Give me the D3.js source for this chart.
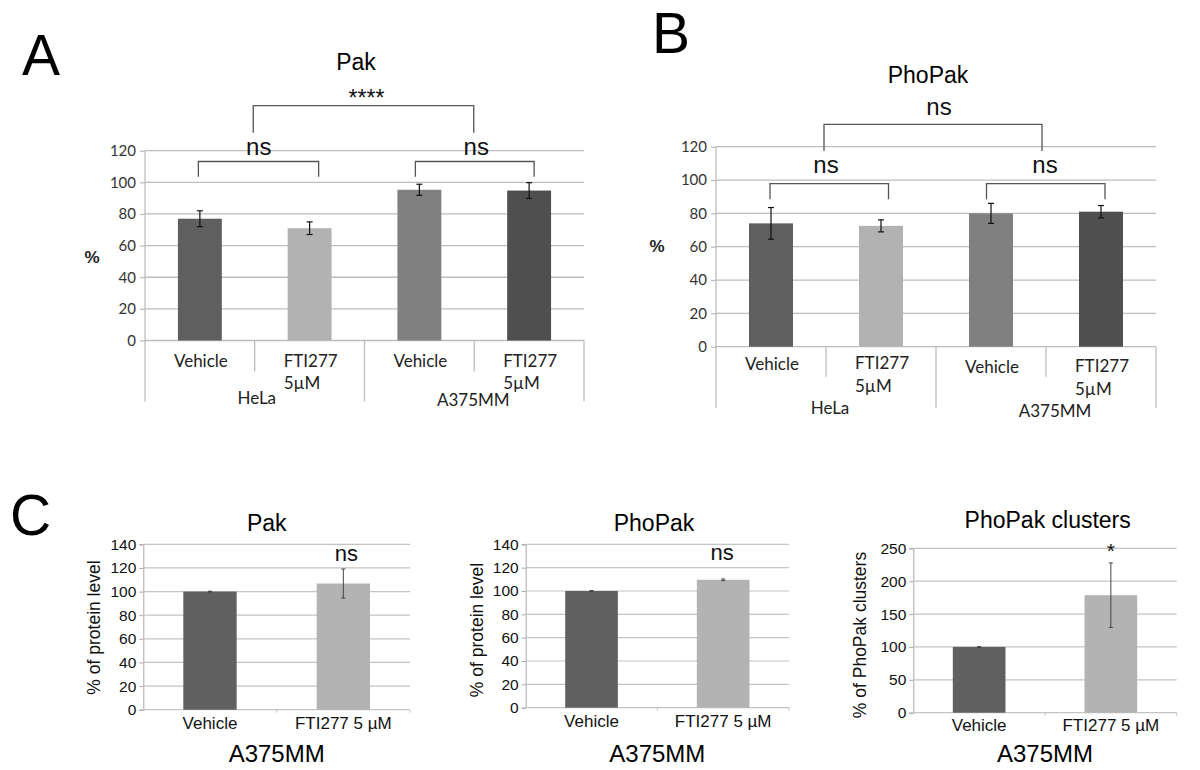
<!DOCTYPE html>
<html>
<head>
<meta charset="utf-8">
<script src="https://cdn.jsdelivr.net/npm/d3@7/dist/d3.min.js"></script>
<style>
  html, body { margin: 0; padding: 0; background: #fff; }
  svg { display: block; }
</style>
</head>
<body>
<svg id="chart" width="1200" height="770"></svg>
<script>
// ---------------- DATA ----------------
const abCategories = ["Vehicle", "FTI277 5µM", "Vehicle", "FTI277 5µM"];
const abGroups = ["HeLa", "A375MM"];
const abTicks = [0, 20, 40, 60, 80, 100, 120];

const pakValues = [77, 71, 95.3, 94.8];
const pakErrors = [5, 4, 3.5, 5];

const phoPakValues = [74, 72.5, 80, 81];
const phoPakErrors = [9.5, 3.6, 6, 3.7];

const cCategories = ["Vehicle", "FTI277 5 µM"];
const cGroup = "A375MM";
const cProteinTicks = [0, 20, 40, 60, 80, 100, 120, 140];
const cClusterTicks = [0, 50, 100, 150, 200, 250];

const cPakValues = [100, 106.8];
const cPakErrors = [0.3, 12.3];
const cPhoPakValues = [100, 109.6];
const cPhoPakErrors = [0.3, 0.7];
const cClusterValues = [100, 178.7];
const cClusterErrors = [0.4, 49];

// ---------------- STYLE ----------------
const abColors = ["#5f5f5f", "#b2b2b2", "#808080", "#4f4f4f"];
const cColors = ["#606060", "#b3b3b3"];
const GRID = "#bdbdbd";
const ARIAL = "'Liberation Sans', Arial, sans-serif";
const CALIBRI = "Lato, 'Open Sans', sans-serif";

const svg = d3.select("#chart");

// Panel letters
[["A", 22, 75], ["B", 652, 53], ["C", 10, 535]].forEach(([t, x, y]) => {
  svg.append("text").attr("x", x).attr("y", y).text(t)
    .attr("font-family", ARIAL).attr("font-size", 57).attr("fill", "#000");
});

function drawAB(cfg) {
  const g = svg.append("g");
  const x = d3.scaleBand().domain(d3.range(cfg.values.length))
    .range([cfg.x0, cfg.x1]).paddingInner(0.6).paddingOuter(0.3);
  const y = d3.scaleLinear().domain([0, 120]).range([cfg.y0, cfg.yTop]);
  const step = x.step();

  // gridlines + ticks
  const yAxis = d3.axisLeft(y).tickValues(abTicks).tickSize(5).tickPadding(4);
  const ax = g.append("g").attr("transform", `translate(${cfg.x0},0)`).call(yAxis);
  ax.select(".domain").remove();
  ax.selectAll(".tick line").attr("stroke", GRID).attr("stroke-width", 1.3);
  ax.selectAll(".tick text").attr("font-family", CALIBRI).attr("font-size", 15)
    .attr("fill", "#333");
  g.selectAll(".grid").data(abTicks).join("line")
    .attr("x1", cfg.x0).attr("x2", cfg.x1)
    .attr("y1", d => y(d)).attr("y2", d => y(d))
    .attr("stroke", GRID).attr("stroke-width", 1.3);
  // y axis line extending into category area
  g.append("line").attr("x1", cfg.x0).attr("x2", cfg.x0)
    .attr("y1", cfg.yTop).attr("y2", cfg.y0 + cfg.longSep)
    .attr("stroke", GRID).attr("stroke-width", 1.3);
  // category separators
  for (let i = 1; i <= cfg.values.length; i++) {
    const xx = cfg.x0 + i * step;
    const len = (i % 2 === 0) ? cfg.longSep : cfg.shortSep;
    g.append("line").attr("x1", xx).attr("x2", xx)
      .attr("y1", cfg.y0).attr("y2", cfg.y0 + len)
      .attr("stroke", GRID).attr("stroke-width", 1.3);
  }

  // bars
  g.selectAll(".bar").data(cfg.values).join("rect")
    .attr("x", (d, i) => x(i)).attr("width", x.bandwidth())
    .attr("y", d => y(d)).attr("height", d => cfg.y0 - y(d))
    .attr("fill", (d, i) => abColors[i]);

  // error bars
  cfg.values.forEach((v, i) => {
    const cx = x(i) + x.bandwidth() / 2;
    const e = cfg.errors[i];
    const eg = g.append("g").attr("stroke", "#111").attr("stroke-width", 1.2);
    eg.append("line").attr("x1", cx).attr("x2", cx).attr("y1", y(v + e)).attr("y2", y(v - e));
    eg.append("line").attr("x1", cx - 3).attr("x2", cx + 3).attr("y1", y(v + e)).attr("y2", y(v + e));
    eg.append("line").attr("x1", cx - 3).attr("x2", cx + 3).attr("y1", y(v - e)).attr("y2", y(v - e));
  });

  // category labels (multi-line labels are a centered, left-aligned block)
  abCategories.forEach((c, i) => {
    const cx = x(i) + x.bandwidth() / 2 + 1;
    const extra = i >= 2 ? cfg.group2Dy : 0;
    const parts = c.split(" ");
    if (parts.length === 1) {
      g.append("text").attr("x", cx).attr("y", cfg.y0 + cfg.labelDy[0] + extra)
        .attr("text-anchor", "middle").attr("font-family", CALIBRI).attr("font-size", 17)
        .attr("fill", "#222").text(c);
    } else {
      const first = g.append("text").attr("y", cfg.y0 + cfg.labelDy[1] + extra)
        .attr("font-family", CALIBRI).attr("font-size", 17).attr("fill", "#222").text(parts[0]);
      const w = first.node().getComputedTextLength();
      const left = cx - w / 2;
      first.attr("x", left);
      parts.slice(1).forEach((p, j) => {
        g.append("text").attr("x", left).attr("y", cfg.y0 + cfg.labelDy[2 + j] + extra)
          .attr("font-family", CALIBRI).attr("font-size", 17).attr("fill", "#222").text(p);
      });
    }
  });
  abGroups.forEach((gname, k) => {
    g.append("text").attr("x", cfg.x0 + (2 * k + 1) * step + cfg.groupDx[k])
      .attr("y", cfg.y0 + cfg.groupDy[k])
      .attr("text-anchor", "middle").attr("font-family", CALIBRI).attr("font-size", 17)
      .attr("fill", "#222").text(gname);
  });

  // title + % label
  g.append("text").attr("x", cfg.titleX).attr("y", cfg.titleY).attr("text-anchor", "middle")
    .attr("font-family", ARIAL).attr("font-size", 23).text(cfg.title);
  g.append("text").attr("x", cfg.pctX).attr("y", cfg.pctY).attr("text-anchor", "middle")
    .attr("font-family", ARIAL).attr("font-size", 17).attr("font-weight", "bold")
    .attr("fill", "#222").text("%");

  // brackets
  const bracket = (xa, xb, top, bottomA, bottomB) => {
    g.append("path").attr("d", `M${xa},${bottomA}V${top}H${xb}V${bottomB}`)
      .attr("fill", "none").attr("stroke", "#555").attr("stroke-width", 1.3);
  };
  const c = i => x(i) + x.bandwidth() / 2;
  bracket(cfg.x0 + step + cfg.bigDx[0], cfg.x0 + 3 * step + cfg.bigDx[1], cfg.bigTop, cfg.bigBottom, cfg.bigBottom);
  bracket(c(0) + cfg.smallDx[0], c(1) + cfg.smallDx[1], cfg.smallTop, cfg.smallBottom, cfg.smallBottom);
  bracket(c(2) + cfg.smallDx[2], c(3) + cfg.smallDx[3], cfg.smallTop, cfg.smallBottom, cfg.smallBottom);

  const sig = (t, xx, yy, fs) => g.append("text").attr("x", xx).attr("y", yy)
    .attr("text-anchor", "middle").attr("font-family", ARIAL).attr("font-size", fs)
    .attr("fill", "#111").text(t);
  sig(cfg.bigSig, cfg.x0 + 2 * step + cfg.bigSigDx, cfg.bigSigY, cfg.bigSigSize);
  sig("ns", cfg.x0 + step + cfg.nsDx[0], cfg.nsY, 24);
  sig("ns", cfg.x0 + 3 * step + cfg.nsDx[1], cfg.nsY, 24);
}

drawAB({
  values: pakValues, errors: pakErrors, title: "Pak",
  x0: 145, x1: 584, y0: 340.5, yTop: 150.7,
  shortSep: 31, longSep: 61,
  labelDy: [26.8, 26.2, 48.8], group2Dy: 0,
  groupDx: [2, -1], groupDy: [63.5, 65],
  titleX: 356, titleY: 70, pctX: 92, pctY: 263,
  bigDx: [-1.5, -0.5], bigTop: 105.7, bigBottom: 132.7,
  smallDx: [-1.5, 9, -4, 5], smallTop: 161.5, smallBottom: 176.7,
  bigSig: "****", bigSigDx: 2, bigSigY: 106, bigSigSize: 23,
  nsDx: [4, 2], nsY: 154.5
});

drawAB({
  values: phoPakValues, errors: phoPakErrors, title: "PhoPak",
  x0: 716, x1: 1156, y0: 346.7, yTop: 146.7,
  shortSep: 30, longSep: 61,
  labelDy: [23.5, 22.5, 45.5], group2Dy: 3,
  groupDx: [4, 9], groupDy: [67, 70],
  titleX: 928, titleY: 83, pctX: 657, pctY: 252,
  bigDx: [-2, -4], bigTop: 124.3, bigBottom: 151,
  smallDx: [-1, 7.5, -4.5, 4], smallTop: 183.7, smallBottom: 199.3,
  bigSig: "ns", bigSigDx: 3, bigSigY: 115, bigSigSize: 24,
  nsDx: [0, -1], nsY: 173
});

function drawC(cfg) {
  const g = svg.append("g");
  const x = d3.scaleBand().domain(d3.range(cfg.values.length))
    .range([cfg.x0, cfg.x1]).paddingInner(0.6).paddingOuter(0.3);
  const y = d3.scaleLinear().domain([0, d3.max(cfg.ticks)]).range([cfg.y0, cfg.yTop]);
  const step = x.step();

  const yAxis = d3.axisLeft(y).tickValues(cfg.ticks).tickSize(4).tickPadding(3);
  const ax = g.append("g").attr("transform", `translate(${cfg.x0},0)`).call(yAxis);
  ax.select(".domain").attr("stroke", "#a8a8a8");
  ax.selectAll(".tick line").attr("stroke", "#a8a8a8");
  ax.selectAll(".tick text").attr("font-family", ARIAL).attr("font-size", 15.5).attr("fill", "#111");
  g.selectAll(".grid").data(cfg.ticks).join("line")
    .attr("x1", cfg.x0).attr("x2", cfg.x1)
    .attr("y1", d => y(d)).attr("y2", d => y(d))
    .attr("stroke", "#c4c4c4").attr("stroke-width", 1.2);
  for (let i = 1; i <= cfg.values.length; i++) {
    const xx = cfg.x0 + i * step;
    g.append("line").attr("x1", xx).attr("x2", xx).attr("y1", cfg.y0).attr("y2", cfg.y0 + 3)
      .attr("stroke", "#c4c4c4");
  }

  g.selectAll(".bar").data(cfg.values).join("rect")
    .attr("x", (d, i) => x(i)).attr("width", x.bandwidth())
    .attr("y", d => y(d)).attr("height", d => cfg.y0 - y(d))
    .attr("fill", (d, i) => cColors[i]);

  cfg.values.forEach((v, i) => {
    const cx = x(i) + x.bandwidth() / 2;
    const e = cfg.errors[i];
    const eg = g.append("g").attr("stroke", "#444").attr("stroke-width", 1);
    eg.append("line").attr("x1", cx).attr("x2", cx).attr("y1", y(v + e)).attr("y2", y(v - e));
    eg.append("line").attr("x1", cx - 2).attr("x2", cx + 2).attr("y1", y(v + e)).attr("y2", y(v + e));
    eg.append("line").attr("x1", cx - 2).attr("x2", cx + 2).attr("y1", y(v - e)).attr("y2", y(v - e));
  });

  cCategories.forEach((c, i) => {
    g.append("text").attr("x", x(i) + x.bandwidth() / 2).attr("y", cfg.labelY)
      .attr("text-anchor", "middle").attr("font-family", ARIAL).attr("font-size", 17)
      .attr("fill", "#111").text(c);
  });
  g.append("text").attr("x", cfg.x0 + step).attr("y", 761.5)
    .attr("text-anchor", "middle").attr("font-family", ARIAL).attr("font-size", 24)
    .attr("fill", "#000").text(cGroup);

  g.append("text").attr("x", cfg.titleX).attr("y", cfg.titleY).attr("text-anchor", "middle")
    .attr("font-family", ARIAL).attr("font-size", 23).text(cfg.title);

  g.append("text").attr("transform", `translate(${cfg.yLabelX},${cfg.yLabelY}) rotate(-90)`)
    .attr("text-anchor", "middle").attr("font-family", ARIAL).attr("font-size", cfg.yLabelSize)
    .attr("fill", "#111").text(cfg.yLabel);

  g.append("text").attr("x", x(1) + x.bandwidth() / 2 + cfg.sigDx).attr("y", cfg.sigY)
    .attr("text-anchor", "middle").attr("font-family", ARIAL).attr("font-size", cfg.sigSize)
    .attr("fill", "#111").text(cfg.sig);
}

drawC({
  values: cPakValues, errors: cPakErrors, ticks: cProteinTicks,
  x0: 143.3, x1: 410, y0: 709.7, yTop: 544.3,
  title: "Pak", titleX: 266.7, titleY: 531,
  yLabel: "% of protein level", yLabelX: 100, yLabelY: 627.5, yLabelSize: 17.5,
  labelY: 729, sig: "ns", sigDx: 3, sigY: 560.7, sigSize: 22
});
drawC({
  values: cPhoPakValues, errors: cPhoPakErrors, ticks: cProteinTicks,
  x0: 525.7, x1: 789, y0: 707.7, yTop: 544.3,
  title: "PhoPak", titleX: 654, titleY: 531,
  yLabel: "% of protein level", yLabelX: 483, yLabelY: 630, yLabelSize: 17.5,
  labelY: 727.4, sig: "ns", sigDx: -1, sigY: 559.7, sigSize: 22
});
drawC({
  values: cClusterValues, errors: cClusterErrors, ticks: cClusterTicks,
  x0: 913.3, x1: 1176.7, y0: 712.7, yTop: 548.3,
  title: "PhoPak clusters", titleX: 1047.7, titleY: 528,
  yLabel: "% of PhoPak clusters", yLabelX: 866, yLabelY: 635, yLabelSize: 17.5,
  labelY: 730.7, sig: "*", sigDx: 0, sigY: 558, sigSize: 21
});
</script>
</body>
</html>
